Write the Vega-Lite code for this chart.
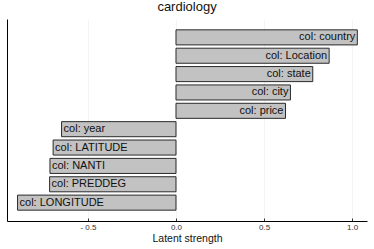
{
  "$schema": "https://vega.github.io/schema/vega-lite/v6.json",
  "autosize": "none",
  "width": 360,
  "height": 202,
  "padding": {"left": 7, "top": 19, "right": 7, "bottom": 28},
  "background": "white",
  "title": {"text": "cardiology", "fontSize": 13, "font": "Liberation Sans", "fontWeight": "normal", "color": "#111", "offset": 5, "anchor": "middle"},
  "data": {"values": [
    {"col": "col: country", "v": 1.03},
    {"col": "col: Location", "v": 0.87},
    {"col": "col: state", "v": 0.777},
    {"col": "col: city", "v": 0.65},
    {"col": "col: price", "v": 0.622},
    {"col": "col: year", "v": -0.65},
    {"col": "col: LATITUDE", "v": -0.698},
    {"col": "col: NANTI", "v": -0.716},
    {"col": "col: PREDDEG", "v": -0.718},
    {"col": "col: LONGITUDE", "v": -0.9}
  ]},
  "config": {"view": {"stroke": null}},
  "encoding": {
    "y": {"field": "col", "type": "nominal", "sort": null,
      "scale": {"paddingInner": 0.18, "paddingOuter": 0.59},
      "axis": {"title": null, "labels": false, "ticks": false, "grid": false, "domainColor": "#000", "domainWidth": 1}},
    "x": {"field": "v", "type": "quantitative",
      "scale": {"domain": [-0.96, 1.085], "nice": false, "zero": false},
      "axis": {"title": "Latent strength", "titleFontSize": 10.5, "titleFont": "Liberation Sans", "titleFontWeight": "normal", "titleColor": "#111", "titlePadding": 2,
        "values": [-0.5, 0, 0.5, 1.0],
        "labelExpr": "datum.value < 0 ? '- ' + format(abs(datum.value), '.1f') : format(datum.value, '.1f')",
        "labelFontSize": 8, "labelFont": "Liberation Sans", "labelColor": "#333", "labelPadding": 5,
        "tickSize": -3, "tickColor": "#333",
        "grid": true, "gridColor": "#ebebeb", "gridWidth": 0.6,
        "domainColor": "#000", "domainWidth": 1}}
  },
  "layer": [
    {"mark": {"type": "bar", "fill": "#c2c2c2", "stroke": "#2a2a2a", "strokeWidth": 1}, "encoding": {"x2": {"datum": 0}}},
    {"transform": [{"filter": "datum.v > 0"}],
     "mark": {"type": "text", "align": "right", "dx": -2, "fontSize": 11, "font": "Liberation Sans", "color": "#111"},
     "encoding": {"text": {"field": "col"}}},
    {"transform": [{"filter": "datum.v < 0"}],
     "mark": {"type": "text", "align": "left", "dx": 2, "fontSize": 11, "font": "Liberation Sans", "color": "#111"},
     "encoding": {"text": {"field": "col"}}}
  ]
}
